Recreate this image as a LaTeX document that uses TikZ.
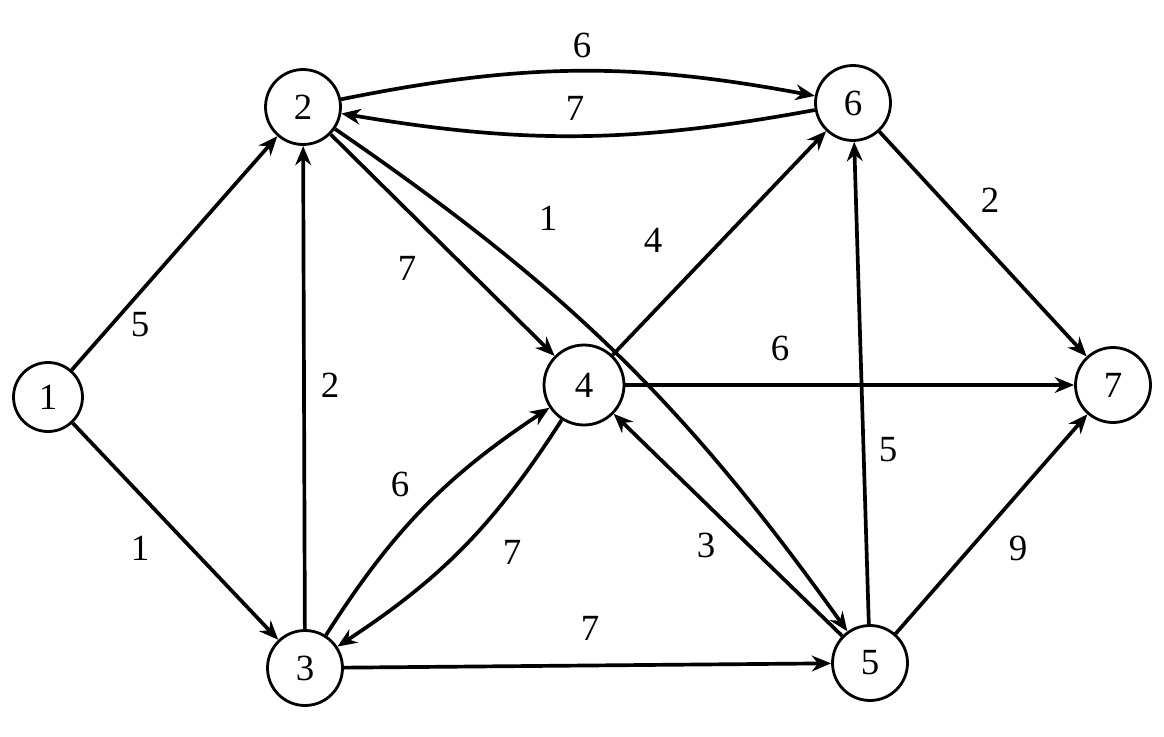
\documentclass[tikz,border=0pt]{standalone}
\usepackage{fontspec}
\setmainfont{Liberation Serif}
\usetikzlibrary{arrows.meta}
\begin{document}
\begin{tikzpicture}[x=0.02cm,y=-0.02cm,
  vtx/.style={draw,line width=1.6pt,circle,minimum size=1.5cm,inner sep=0pt,font=\fontsize{21}{24}\selectfont},
  edge/.style={line width=2.1pt,-{Stealth[length=11pt,width=9pt]}},
  lab/.style={font=\fontsize{21}{24}\selectfont}]
\useasboundingbox (0,0) rectangle (1164,737);
\node[vtx,minimum size=1.38cm] (n1) at (48,397) {1};
\node[vtx] (n2) at (303,107) {2};
\node[vtx] (n3) at (305,668) {3};
\node[vtx,minimum size=1.6cm] (n4) at (584,385) {4};
\node[vtx] (n5) at (870,663) {5};
\node[vtx] (n6) at (853,103) {6};
\node[vtx] (n7) at (1113,385) {7};
\draw[edge] (n1) -- (n2);
\draw[edge] (n1) -- (n3);
\draw[edge] (n2) to[bend left=11] (n6);
\draw[edge] (n6) to[bend left=10] (n2);
\draw[edge] (n2) -- (n4);
\draw[edge] (n2) to[bend left=10] (n5);
\draw[edge] (n3) -- (n2);
\draw[edge] (n3) to[bend left=12] (n4);
\draw[edge] (n4) to[bend left=12] (n3);
\draw[edge] (n4) -- (n6);
\draw[edge] (n4) -- (n7);
\draw[edge] (n5) -- (n4);
\draw[edge] (n3) -- (n5);
\draw[edge] (n5) -- (n6);
\draw[edge] (n5) -- (n7);
\draw[edge] (n6) -- (n7);
\node[lab] (l12) at (140,325) {5};
\node[lab] (l13) at (140,548) {1};
\node[lab] (l26) at (582,45) {6};
\node[lab] (l62) at (575,108) {7};
\node[lab] (l24) at (407,268) {7};
\node[lab] (l25) at (548,218) {1};
\node[lab] (l32) at (330,385) {2};
\node[lab] (l34) at (400,484) {6};
\node[lab] (l43) at (512,552) {7};
\node[lab] (l46) at (653,240) {4};
\node[lab] (l47) at (780,348) {6};
\node[lab] (l54) at (706,545) {3};
\node[lab] (l35) at (590,628) {7};
\node[lab] (l56) at (888,450) {5};
\node[lab] (l57) at (1018,548) {9};
\node[lab] (l67) at (990,200) {2};
\end{tikzpicture}
\end{document}
